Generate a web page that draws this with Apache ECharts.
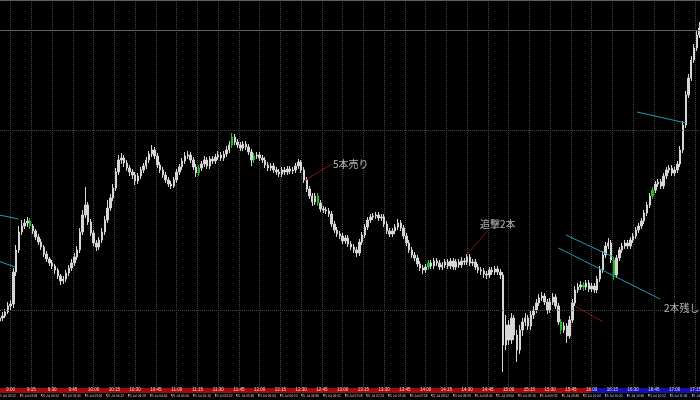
<!DOCTYPE html>
<html><head><meta charset="utf-8">
<script src="https://cdn.jsdelivr.net/npm/echarts@6/dist/echarts.min.js"></script>
<style>html,body{margin:0;padding:0;background:#000;}#c{width:700px;height:400px;}</style>
</head><body><div id="c"></div>
<script>
// ---- price data (2-minute bars, JST from 8:51) ----
const openP = [
108.679,108.682,108.684,108.688,108.694,108.696,108.728,108.750,108.768,108.774,
108.777,108.779,108.774,108.769,108.763,108.758,108.753,108.746,108.741,108.737,
108.734,108.730,108.724,108.719,108.721,108.727,108.732,108.737,108.743,108.750,
108.768,108.785,108.795,108.778,108.767,108.757,108.753,108.760,108.768,108.780,
108.792,108.802,108.812,108.828,108.840,108.842,108.837,108.832,108.828,108.825,
108.819,108.824,108.830,108.834,108.840,108.846,108.850,108.844,108.835,108.830,
108.825,108.820,108.816,108.814,108.820,108.828,108.833,108.839,108.844,108.845,
108.840,108.833,108.827,108.832,108.836,108.840,108.834,108.841,108.839,108.843,
108.845,108.842,108.846,108.850,108.855,108.863,108.858,108.855,108.852,108.856,
108.853,108.848,108.840,108.844,108.845,108.842,108.840,108.835,108.832,108.834,
108.830,108.828,108.826,108.830,108.828,108.831,108.829,108.830,108.834,108.838,
108.830,108.820,108.811,108.804,108.798,108.804,108.797,108.791,108.790,108.789,
108.786,108.776,108.770,108.766,108.764,108.759,108.762,108.756,108.753,108.750,
108.747,108.758,108.765,108.773,108.780,108.783,108.784,108.785,108.782,108.783,
108.776,108.769,108.766,108.769,108.773,108.777,108.772,108.764,108.757,108.750,
108.745,108.742,108.736,108.732,108.730,108.733,108.737,108.734,108.739,108.737,
108.733,108.735,108.738,108.734,108.739,108.733,108.738,108.735,108.739,108.738,
108.743,108.737,108.738,108.733,108.730,108.729,108.726,108.725,108.730,108.728,
108.731,108.728,108.725,108.655,108.675,108.660,108.682,108.665,108.650,108.670,
108.678,108.682,108.674,108.685,108.690,108.697,108.702,108.704,108.698,108.690,
108.698,108.703,108.694,108.678,108.670,108.674,108.664,108.680,108.697,108.710,
108.713,108.715,108.713,108.717,108.711,108.714,108.710,108.721,108.730,108.745,
108.754,108.757,108.740,108.725,108.742,108.750,108.754,108.757,108.754,108.760,
108.764,108.770,108.774,108.779,108.787,108.795,108.804,108.810,108.816,108.818,
108.814,108.824,108.830,108.832,108.827,108.830,108.836,108.850,108.875,108.905,
108.922,108.940,108.952,108.965];
const closeP = [
108.682,108.684,108.688,108.694,108.696,108.728,108.750,108.768,108.774,108.777,
108.779,108.774,108.769,108.763,108.758,108.753,108.746,108.741,108.737,108.734,
108.730,108.724,108.719,108.721,108.727,108.732,108.737,108.743,108.750,108.768,
108.785,108.795,108.778,108.767,108.757,108.753,108.760,108.768,108.780,108.792,
108.802,108.812,108.828,108.840,108.842,108.837,108.832,108.828,108.825,108.819,
108.824,108.830,108.834,108.840,108.846,108.850,108.844,108.835,108.830,108.825,
108.820,108.816,108.814,108.820,108.828,108.833,108.839,108.844,108.845,108.840,
108.833,108.827,108.832,108.836,108.840,108.834,108.841,108.839,108.843,108.845,
108.842,108.846,108.850,108.855,108.863,108.858,108.855,108.852,108.856,108.853,
108.848,108.840,108.844,108.845,108.842,108.840,108.835,108.832,108.834,108.830,
108.828,108.826,108.830,108.828,108.831,108.829,108.830,108.834,108.838,108.830,
108.820,108.811,108.804,108.798,108.804,108.797,108.791,108.790,108.789,108.786,
108.776,108.770,108.766,108.764,108.759,108.762,108.756,108.753,108.750,108.747,
108.758,108.765,108.773,108.780,108.783,108.784,108.785,108.782,108.783,108.776,
108.769,108.766,108.769,108.773,108.777,108.772,108.764,108.757,108.750,108.745,
108.742,108.736,108.732,108.730,108.733,108.737,108.734,108.739,108.737,108.733,
108.735,108.738,108.734,108.739,108.733,108.738,108.735,108.739,108.738,108.743,
108.737,108.738,108.733,108.730,108.729,108.726,108.725,108.730,108.728,108.731,
108.728,108.725,108.655,108.675,108.660,108.682,108.665,108.650,108.670,108.678,
108.682,108.674,108.685,108.690,108.697,108.702,108.704,108.698,108.690,108.698,
108.703,108.694,108.678,108.670,108.674,108.664,108.680,108.697,108.710,108.713,
108.715,108.713,108.717,108.711,108.714,108.710,108.721,108.730,108.745,108.754,
108.757,108.740,108.725,108.742,108.750,108.754,108.757,108.754,108.760,108.764,
108.770,108.774,108.779,108.787,108.795,108.804,108.810,108.816,108.818,108.814,
108.824,108.830,108.832,108.827,108.830,108.836,108.850,108.875,108.905,108.922,
108.940,108.952,108.965,108.972];
const lowP = [
108.676,108.679,108.682,108.686,108.689,108.692,108.724,108.747,108.765,108.771,
108.773,108.771,108.766,108.760,108.755,108.750,108.743,108.738,108.734,108.731,
108.726,108.721,108.715,108.716,108.718,108.724,108.729,108.734,108.740,108.747,
108.765,108.782,108.775,108.764,108.754,108.749,108.750,108.757,108.765,108.777,
108.789,108.799,108.809,108.825,108.836,108.833,108.829,108.824,108.821,108.815,
108.816,108.821,108.827,108.831,108.837,108.843,108.841,108.832,108.827,108.822,
108.817,108.813,108.811,108.812,108.817,108.825,108.830,108.836,108.841,108.837,
108.830,108.823,108.824,108.829,108.833,108.831,108.831,108.836,108.836,108.840,
108.839,108.839,108.843,108.847,108.852,108.855,108.852,108.849,108.849,108.850,
108.845,108.834,108.837,108.841,108.839,108.837,108.832,108.829,108.829,108.827,
108.825,108.823,108.823,108.825,108.825,108.826,108.826,108.827,108.831,108.827,
108.817,108.808,108.801,108.794,108.795,108.794,108.788,108.787,108.786,108.783,
108.773,108.767,108.763,108.761,108.756,108.756,108.753,108.750,108.747,108.743,
108.744,108.755,108.762,108.770,108.777,108.780,108.781,108.779,108.779,108.773,
108.766,108.763,108.763,108.766,108.770,108.769,108.761,108.754,108.747,108.742,
108.739,108.733,108.729,108.726,108.727,108.730,108.731,108.731,108.734,108.730,
108.730,108.732,108.731,108.731,108.730,108.730,108.732,108.732,108.735,108.735,
108.734,108.734,108.730,108.727,108.725,108.722,108.721,108.722,108.725,108.725,
108.725,108.721,108.628,108.650,108.655,108.656,108.660,108.638,108.646,108.664,
108.674,108.670,108.670,108.681,108.687,108.694,108.699,108.695,108.686,108.687,
108.695,108.691,108.675,108.666,108.667,108.657,108.661,108.677,108.694,108.707,
108.710,108.709,108.710,108.708,108.708,108.707,108.707,108.718,108.727,108.742,
108.751,108.737,108.720,108.722,108.739,108.747,108.751,108.751,108.751,108.757,
108.761,108.767,108.771,108.776,108.784,108.792,108.801,108.807,108.813,108.811,
108.811,108.821,108.827,108.824,108.824,108.827,108.833,108.847,108.872,108.902,
108.919,108.937,108.949,108.962];
const highP = [
108.686,108.688,108.691,108.698,108.700,108.732,108.755,108.774,108.780,108.781,
108.783,108.782,108.776,108.771,108.766,108.761,108.755,108.749,108.743,108.740,
108.736,108.732,108.726,108.724,108.730,108.735,108.741,108.747,108.754,108.772,
108.790,108.813,108.798,108.781,108.770,108.760,108.763,108.772,108.784,108.800,
108.806,108.816,108.832,108.845,108.847,108.845,108.840,108.835,108.831,108.828,
108.827,108.833,108.837,108.843,108.849,108.855,108.853,108.847,108.838,108.833,
108.828,108.823,108.819,108.823,108.831,108.836,108.842,108.848,108.849,108.848,
108.843,108.836,108.835,108.839,108.844,108.843,108.844,108.844,108.846,108.849,
108.848,108.849,108.854,108.859,108.867,108.866,108.861,108.858,108.859,108.859,
108.856,108.851,108.847,108.848,108.848,108.845,108.843,108.838,108.837,108.837,
108.833,108.831,108.833,108.833,108.834,108.834,108.833,108.837,108.841,108.840,
108.833,108.823,108.814,108.807,108.807,108.807,108.800,108.794,108.793,108.792,
108.789,108.779,108.773,108.769,108.767,108.765,108.765,108.759,108.756,108.753,
108.761,108.768,108.776,108.783,108.786,108.787,108.788,108.788,108.786,108.786,
108.779,108.772,108.772,108.776,108.781,108.780,108.775,108.767,108.760,108.753,
108.748,108.745,108.739,108.735,108.736,108.740,108.740,108.742,108.742,108.740,
108.738,108.741,108.741,108.742,108.742,108.741,108.741,108.743,108.742,108.746,
108.746,108.741,108.741,108.736,108.733,108.732,108.729,108.733,108.733,108.734,
108.734,108.731,108.728,108.685,108.680,108.687,108.685,108.670,108.675,108.682,
108.687,108.685,108.689,108.694,108.701,108.706,108.708,108.707,108.701,108.702,
108.707,108.706,108.697,108.681,108.678,108.677,108.684,108.701,108.714,108.717,
108.719,108.718,108.720,108.720,108.717,108.717,108.724,108.734,108.749,108.758,
108.762,108.760,108.743,108.745,108.753,108.757,108.760,108.760,108.763,108.767,
108.773,108.777,108.782,108.790,108.798,108.807,108.813,108.819,108.821,108.821,
108.827,108.833,108.835,108.835,108.833,108.839,108.854,108.879,108.909,108.926,
108.944,108.956,108.969,108.978];
const greenBars = [11, 72, 84, 92, 115, 155, 203, 211, 222, 236];
const leadEmpty = 3;               // 8:45-8:50 bars outside the window
const axisMinutes = 514;           // 8:45 .. 17:19 JST

// ---- tick labels ----
const jstLabels = ["8:45","9:00","9:15","9:30","9:45","10:00","10:15","10:30","10:45","11:00","11:15","11:30","11:45","12:00","12:15","12:30","12:45","13:00","13:15","13:30","13:45","14:00","14:15","14:30","14:45","15:00","15:15","15:30","15:45","16:00","16:15","16:30","16:45","17:00","17:15"];
const sessionSplit = 435;          // 16:00 JST, start of blue session
const serverLabels = ["25 Jul 02:52","25 Jul 03:08","25 Jul 03:24","25 Jul 03:40","25 Jul 03:56","25 Jul 04:12","25 Jul 04:28","25 Jul 04:44","25 Jul 05:00","25 Jul 05:16","25 Jul 05:32","25 Jul 05:48","25 Jul 06:04","25 Jul 06:20","25 Jul 06:36","25 Jul 06:52","25 Jul 07:08","25 Jul 07:24","25 Jul 07:40","25 Jul 07:56","25 Jul 08:12","25 Jul 08:28","25 Jul 08:44","25 Jul 09:00","25 Jul 09:16","25 Jul 09:32","25 Jul 09:48","25 Jul 10:04","25 Jul 10:20","25 Jul 10:36","25 Jul 10:52","25 Jul 11:08","25 Jul 11:24"];

// ---- horizontal levels ----
const solidLevels = [108.999, 108.975];
const dottedLevels = [108.871, 108.688];

// ---- drawn objects: [minute from 8:45, price] ----
const cyanLines = [
  [[0.0,108.787],[20.5,108.781]],
  [[0.0,108.742],[18.1,108.733]],
  [[467.8,108.888],[503.2,108.877]],
  [[416.4,108.765],[450.6,108.743]],
  [[410.9,108.752],[484.4,108.701]]
];
const redLines = [
  [[227.8,108.820],[247.3,108.836]],
  [[344.6,108.745],[360.3,108.770]],
  [[422.9,108.694],[443.4,108.678]]
];
const notes = [
  {text:"5本売り", m:248.0, p:108.836},
  {text:"追撃2本", m:354.3, p:108.776},
  {text:"2本残し", m:487.3, p:108.692}
];

// ---- build ----
const barTimes = [];
for (let i = 0; i < leadEmpty + openP.length; i++) {
  const t = 8*60 + 45 + 2*i;
  barTimes.push(Math.floor(t/60) + ":" + String(t%60).padStart(2,"0"));
}
const GREEN = "#1fbf1f", WHITE = "#d6d6d6";
const candles = [];
for (let i = 0; i < leadEmpty; i++) candles.push("-");
openP.forEach((o, k) => {
  const v = [o, closeP[k], lowP[k], highP[k]];
  if (greenBars.includes(k)) {
    candles.push({value: v, itemStyle: {color: GREEN, color0: GREEN, borderColor: GREEN, borderColor0: GREEN}});
  } else candles.push(v);
});

const GL = -10.05, GW = 711;
const series = [{
  type: "candlestick", xAxisIndex: 0, yAxisIndex: 0, data: candles, barWidth: "70%",
  itemStyle: {color: WHITE, color0: WHITE, borderColor: WHITE, borderColor0: WHITE, borderWidth: 1},
  markLine: {
    silent: true, symbol: "none", animation: false, label: {show: false},
    data: solidLevels.map(v => ({yAxis: v, lineStyle: {color: "#5b6068", type: "solid", width: 1}}))
      .concat(dottedLevels.map(v => ({yAxis: v, lineStyle: {color: "#4a4a4a", type: "dotted", width: 1}})))
  }
}];
cyanLines.forEach(l => series.push({type: "line", xAxisIndex: 1, yAxisIndex: 0, data: l, symbol: "none", silent: true,
  lineStyle: {color: "#1a9fae", width: 1}}));
redLines.forEach(l => series.push({type: "line", xAxisIndex: 1, yAxisIndex: 0, data: l, symbol: "none", silent: true,
  lineStyle: {color: "#8a1010", width: 1}}));
series.push({type: "scatter", xAxisIndex: 1, yAxisIndex: 0, symbolSize: 0, silent: true,
  data: notes.map(n => ({value: [n.m, n.p], label: {formatter: n.text}})),
  label: {show: true, position: "right", distance: 0, color: "#e2e2e2", fontSize: 10, fontFamily: "Noto Sans CJK JP"}});
series.push({type: "line", xAxisIndex: 2, yAxisIndex: 1, data: [[0, 0]], symbol: "none", silent: true, z: 0,
  lineStyle: {opacity: 0},
  markArea: {silent: true, z: 0, data: [
    [{xAxis: 0, itemStyle: {color: "#a00b0b"}}, {xAxis: sessionSplit}],
    [{xAxis: sessionSplit, itemStyle: {color: "#1212b0"}}, {xAxis: axisMinutes}]
  ]}});

const chart = echarts.init(document.getElementById("c"), null, {renderer: "canvas"});
chart.setOption({
  backgroundColor: "#000000",
  animation: false,
  grid: [
    {left: GL, top: 0, width: GW, height: 388, outerBoundsMode: "none", containLabel: false},
    {left: GL, top: 388, width: GW, height: 5, outerBoundsMode: "none", containLabel: false},
    {left: -1.67, top: 393, width: 21.67 * (serverLabels.length - 1), height: 1, outerBoundsMode: "none", containLabel: false}
  ],
  xAxis: [
    {type: "category", gridIndex: 0, data: barTimes, show: false},
    {type: "value", gridIndex: 0, min: 0, max: axisMinutes, interval: 15,
      axisLine: {show: false}, axisTick: {show: false}, axisLabel: {show: false},
      splitLine: {show: true, lineStyle: {color: "#454545", type: "dotted", width: 1}}},
    {type: "value", gridIndex: 1, min: 0, max: axisMinutes, interval: 15, z: 20,
      axisLine: {show: false}, axisTick: {show: false}, splitLine: {show: false},
      axisLabel: {show: true, inside: true, margin: 0.5, fontSize: 4.5, color: "#f0dcdc",
        verticalAlign: "bottom", formatter: v => jstLabels[Math.round(v / 15)] || ""}},
    {type: "category", gridIndex: 2, data: serverLabels, boundaryGap: false, z: 20,
      axisLine: {show: false}, axisTick: {show: true, length: 2, lineStyle: {color: "#9a9a9a"}},
      splitLine: {show: false},
      axisLabel: {show: true, interval: 0, margin: 1, fontSize: 3.2, color: "#d0d0d0", align: "left"}}
  ],
  yAxis: [
    {type: "value", gridIndex: 0, min: 108.612, max: 109.0, show: false, splitLine: {show: false}},
    {type: "value", gridIndex: 1, min: 0, max: 1, show: false},
    {type: "value", gridIndex: 2, min: 0, max: 1, show: false}
  ],
  series: series
});
</script>
</body></html>
